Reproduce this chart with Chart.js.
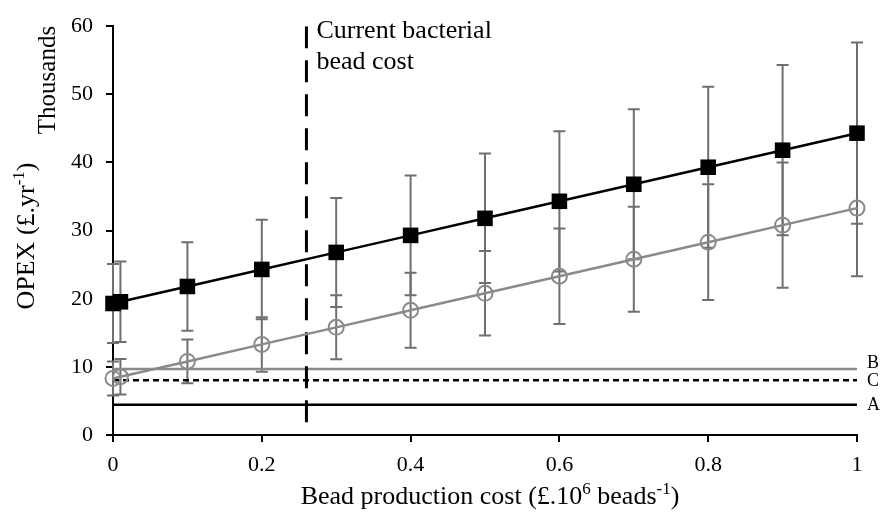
<!DOCTYPE html>
<html>
<head>
<meta charset="utf-8">
<script src="https://cdn.jsdelivr.net/npm/chart.js@4"></script>
<style>
  html, body { margin: 0; padding: 0; background: #fff; }
  #wrap { width: 880px; height: 518px; }
</style>
</head>
<body>
<div id="wrap"><canvas id="myChart" width="880" height="518"></canvas></div>
<script>
'use strict';

// <------------------ DATA ------------------>

let beadCost = [0, 0.01, 0.1, 0.2, 0.3, 0.4, 0.5, 0.6, 0.7, 0.8, 0.9, 1];

// OPEX in thousands of £ per year
let opexSquare = [19.3, 19.55, 21.8, 24.3, 26.8, 29.3, 31.8, 34.3, 36.8, 39.3, 41.8, 44.3];
let opexSquareErr = [5.8, 5.9, 6.5, 7.3, 8.0, 8.8, 9.5, 10.3, 11.0, 11.8, 12.5, 13.3];

let opexCircle = [8.3, 8.55, 10.8, 13.3, 15.8, 18.3, 20.8, 23.3, 25.8, 28.3, 30.8, 33.3];
let opexCircleErr = [2.5, 2.6, 3.2, 4.0, 4.7, 5.5, 6.2, 7.0, 7.7, 8.5, 9.2, 10.0];

// reference systems drawn as flat lines
let refNames = ['B', 'C', 'A'];
let refValues = [9.7, 8.05, 4.45];

let currentCost = 0.26;

let xTicks = [0, 0.2, 0.4, 0.6, 0.8, 1];
let yTicks = [0, 10, 20, 30, 40, 50, 60];


// <------------------ HELPERS ------------------>

const SERIF = "'Liberation Serif', 'Times New Roman', serif";

function toPoints(xs, ys) {
  let pts = [];
  for (let i = 0; i < xs.length; i++) {
    pts.push({ x: xs[i], y: ys[i] });
  }
  return pts;
}

function flatLine(value) {
  return [{ x: 0, y: value }, { x: 1, y: value }];
}

// draws "base" followed by raised "sup" text, returns total width
function drawSupText(ctx, parts, x, y, size) {
  let cx = x;
  for (let i = 0; i < parts.length; i++) {
    let p = parts[i];
    if (p.sup) {
      ctx.font = Math.round(size * 0.65) + 'px ' + SERIF;
      ctx.fillText(p.text, cx, y - size * 0.38);
    } else {
      ctx.font = size + 'px ' + SERIF;
      ctx.fillText(p.text, cx, y);
    }
    cx += ctx.measureText(p.text).width;
  }
  return cx - x;
}

function measureSupText(ctx, parts, size) {
  let w = 0;
  for (let i = 0; i < parts.length; i++) {
    ctx.font = (parts[i].sup ? Math.round(size * 0.65) : size) + 'px ' + SERIF;
    w += ctx.measureText(parts[i].text).width;
  }
  return w;
}


// <------------------ PLUGINS ------------------>

const errorBars = {
  id: 'errorBars',
  beforeDatasetsDraw(chart) {
    let ctx = chart.ctx;
    let xs = chart.scales.x;
    let ys = chart.scales.y;
    let sets = [[opexSquare, opexSquareErr], [opexCircle, opexCircleErr]];
    ctx.save();
    ctx.strokeStyle = '#6f6f6f';
    ctx.lineWidth = 2;
    sets.forEach(function (s) {
      for (let i = 0; i < beadCost.length; i++) {
        let px = xs.getPixelForValue(beadCost[i]);
        let top = ys.getPixelForValue(s[0][i] + s[1][i]);
        let bot = ys.getPixelForValue(s[0][i] - s[1][i]);
        ctx.beginPath();
        ctx.moveTo(px, top);
        ctx.lineTo(px, bot);
        ctx.moveTo(px - 6, top);
        ctx.lineTo(px + 6, top);
        ctx.moveTo(px - 6, bot);
        ctx.lineTo(px + 6, bot);
        ctx.stroke();
      }
    });
    ctx.restore();
  }
};

const textLabels = {
  id: 'textLabels',
  afterDraw(chart) {
    let ctx = chart.ctx;
    let xs = chart.scales.x;
    let ys = chart.scales.y;
    let area = chart.chartArea;
    ctx.save();
    ctx.fillStyle = '#000';
    ctx.textBaseline = 'alphabetic';
    ctx.textAlign = 'left';

    // annotation next to the dashed line
    let ax = xs.getPixelForValue(currentCost) + 10;
    ctx.font = '26px ' + SERIF;
    ctx.fillText('Current bacterial', ax, 38);
    ctx.fillText('bead cost', ax, 69);

    // names of the flat lines
    ctx.font = '18px ' + SERIF;
    ctx.textBaseline = 'middle';
    let nudge = [-6, 1, 1];
    for (let i = 0; i < refNames.length; i++) {
      ctx.fillText(refNames[i], area.right + 10, ys.getPixelForValue(refValues[i]) + nudge[i]);
    }

    // x axis title
    ctx.textBaseline = 'alphabetic';
    let xParts = [
      { text: 'Bead production cost (£.10' },
      { text: '6', sup: true },
      { text: ' beads' },
      { text: '-1', sup: true },
      { text: ')' }
    ];
    let w = measureSupText(ctx, xParts, 26);
    drawSupText(ctx, xParts, 490 - w / 2, 504, 26);

    // y axis titles
    let yParts = [
      { text: 'OPEX (£.yr' },
      { text: '-1', sup: true },
      { text: ')' }
    ];
    ctx.translate(34, 236);
    ctx.rotate(-Math.PI / 2);
    let wy = measureSupText(ctx, yParts, 26);
    drawSupText(ctx, yParts, -wy / 2, 0, 26);
    ctx.restore();

    ctx.save();
    ctx.fillStyle = '#000';
    ctx.translate(55, 80);
    ctx.rotate(-Math.PI / 2);
    ctx.font = '25px ' + SERIF;
    ctx.textAlign = 'center';
    ctx.fillText('Thousands', 0, 0);
    ctx.restore();
  }
};


// <------------------ CHART ------------------>

let ctx = document.getElementById('myChart').getContext('2d');

let refColors = ['#8a8a8a', '#000', '#000'];
let refDash = [[], [6, 4], []];

let datasets = [
  {
    label: 'Square',
    data: toPoints(beadCost, opexSquare),
    borderColor: '#000',
    backgroundColor: '#000',
    borderWidth: 2.5,
    pointStyle: 'rect',
    pointRadius: 11,
    pointBorderWidth: 0,
    clip: false,
    order: 1
  },
  {
    label: 'Circle',
    data: toPoints(beadCost, opexCircle),
    borderColor: '#8a8a8a',
    backgroundColor: 'rgba(0,0,0,0)',
    borderWidth: 2.5,
    pointStyle: 'circle',
    pointRadius: 7.5,
    pointBorderWidth: 2,
    clip: false,
    order: 2
  },
  {
    label: 'Current cost',
    data: [{ x: currentCost, y: 60 }, { x: currentCost, y: 0 }],
    borderColor: '#000',
    borderWidth: 3,
    borderDash: [22, 12],
    pointRadius: 0,
    order: 3
  }
];

for (let i = 0; i < refNames.length; i++) {
  datasets.push({
    label: refNames[i],
    data: flatLine(refValues[i]),
    borderColor: refColors[i],
    borderWidth: 2.5,
    borderDash: refDash[i],
    pointRadius: 0,
    order: 4 + i
  });
}

const myChart = new Chart(ctx, {
  type: 'line',
  data: { datasets: datasets },
  options: {
    responsive: false,
    animation: false,
    events: [],
    layout: { padding: { top: 16, right: 23, left: 0, bottom: 0 } },
    plugins: {
      legend: { display: false },
      tooltip: { enabled: false }
    },
    scales: {
      x: {
        type: 'linear',
        min: 0,
        max: 1,
        afterBuildTicks(scale) {
          scale.ticks = xTicks.map(v => ({ value: v }));
        },
        afterFit(scale) { scale.height = 83; },
        border: { display: true, color: '#000', width: 2 },
        grid: { drawOnChartArea: false, color: '#000', tickLength: 7, lineWidth: 2 },
        ticks: {
          color: '#000',
          font: { family: SERIF, size: 22 },
          padding: 10,
          maxRotation: 0,
          callback: v => String(v)
        }
      },
      y: {
        min: 0,
        max: 60,
        afterBuildTicks(scale) {
          scale.ticks = yTicks.map(v => ({ value: v }));
        },
        afterFit(scale) { scale.width = 113; },
        border: { display: true, color: '#000', width: 2 },
        grid: { drawOnChartArea: false, color: '#000', tickLength: 7, lineWidth: 2 },
        ticks: {
          color: '#000',
          font: { family: SERIF, size: 22 },
          padding: 13
        }
      }
    }
  },
  plugins: [errorBars, textLabels]
});
</script>
</body>
</html>
